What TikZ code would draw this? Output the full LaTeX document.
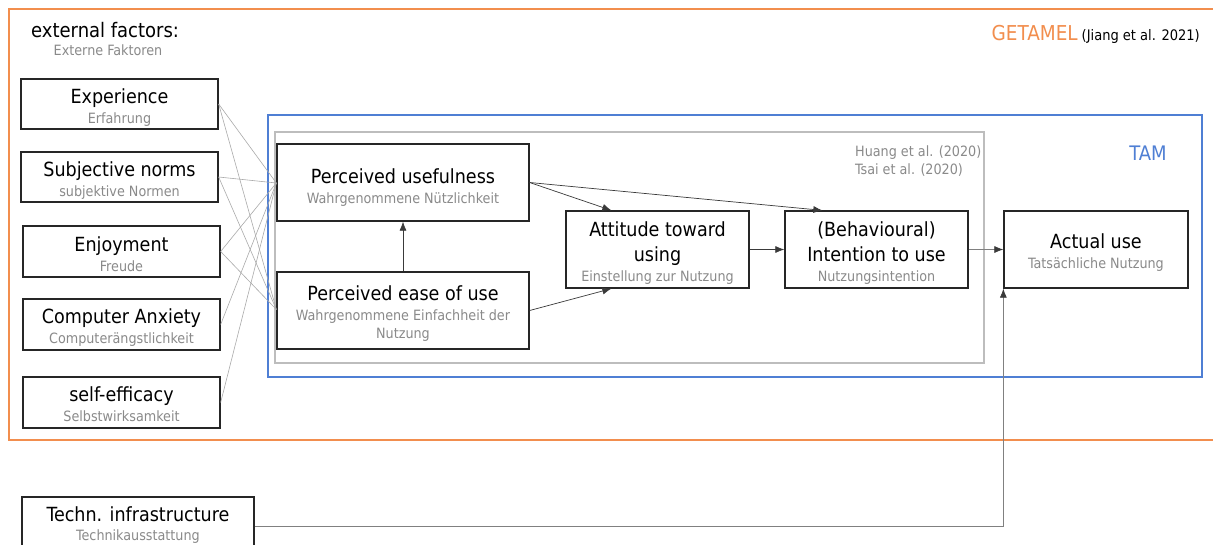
\documentclass[tikz,border=0pt]{standalone}
\usepackage{fontspec}
\setmainfont{DejaVu Sans Condensed}
\usetikzlibrary{arrows.meta,calc}
\definecolor{getorange}{HTML}{F28E4E}
\definecolor{tamblue}{HTML}{4F7FD4}
\definecolor{studygray}{HTML}{BDBDBD}
\definecolor{subgray}{HTML}{8A8A8A}
\definecolor{linkgray}{HTML}{AAAAAA}
\definecolor{arrowgray}{HTML}{3A3A3A}
\newcommand\mainf{\fontsize{19.5}{21}\selectfont}
\newcommand\subf{\fontsize{14.2}{18}\selectfont\color{subgray}}
\tikzset{
  factor/.style={draw=black!85, line width=1.3pt, inner sep=0pt, minimum width=#1},
  factor/.default=197pt,
  caption/.style={inner sep=0pt, align=center, font=\mainf},
  link/.style={draw=linkgray, line width=0.6pt},
  effect/.style={draw=arrowgray, line width=0.7pt,
                 -{Latex[length=9pt,width=7pt]}},
  feed/.style={draw=gray, line width=0.7pt,
                 -{Latex[length=9pt,width=7pt,color=arrowgray]}},
}
\begin{document}
\begin{tikzpicture}[x=1pt,y=-1pt]
\useasboundingbox (0,0) rectangle (1213,544);
\clip (0,0) rectangle (1213,544);
\fill[white] (0,0) rectangle (1213,544);

% GETAMEL frame (open to the right)
\draw[getorange, line width=1.5pt] (1220,9) -- (9,9) -- (9,440) -- (1220,440);
\node[anchor=base west, inner sep=0pt, font=\fontsize{20}{22}\selectfont] (extlbl) at (31,37) {external factors:};
\node[anchor=base, inner sep=0pt, font=\subf] (extsub) at (108,55) {Externe Faktoren};
\node[anchor=base east, inner sep=0pt] (getamel) at (1200,40)
  {{\color{getorange}\fontsize{20.5}{22}\selectfont GETAMEL}\hspace{4pt}{\fontsize{14.5}{16}\selectfont (Jiang et al. 2021)}};

% TAM frame and study frame
\draw[tamblue, line width=1.3pt] (268,115) rectangle (1202,377);
\node[anchor=base, inner sep=0pt, text=tamblue, font=\fontsize{20}{22}\selectfont] (tam) at (1148,160) {TAM};
\draw[studygray, line width=1.6pt] (275,132) rectangle (984,363);
\node[anchor=base west, inner sep=0pt, font=\subf] (huang) at (855,156) {Huang et al. (2020)};
\node[anchor=base west, inner sep=0pt, font=\subf] (tsai) at (855,174) {Tsai et al. (2020)};

% external factors
\node[factor, minimum height=50pt] (exp) at (119.5,104) {};
\node[caption] (exp-t) at ($(exp)+(0,3.5)$) {Experience\\[-1pt]{\subf Erfahrung}};
\node[factor, minimum height=50pt] (norm) at (119.5,177) {};
\node[caption] (norm-t) at ($(norm)+(0,3.5)$) {Subjective norms\\[-1pt]{\subf subjektive Normen}};
\node[factor, minimum height=51pt] (enj) at (121.5,251.5) {};
\node[caption] (enj-t) at ($(enj)+(0,3)$) {Enjoyment\\[-1pt]{\subf Freude}};
\node[factor, minimum height=51pt] (anx) at (121.5,324.5) {};
\node[caption] (anx-t) at ($(anx)+(0,3.5)$) {Computer Anxiety\\[-1pt]{\subf Computerängstlichkeit}};
\node[factor, minimum height=51pt] (eff) at (121.5,402.5) {};
\node[caption] (eff-t) at ($(eff)+(0,1.5)$) {self-efficacy\\[-1pt]{\subf Selbstwirksamkeit}};

% TAM constructs
\node[factor=252pt, minimum height=77pt] (pu) at (403,182.5) {};
\node[caption] (pu-t) at ($(pu)+(0,5)$) {Perceived usefulness\\[-1pt]{\subf Wahrgenommene Nützlichkeit}};
\node[factor=252pt, minimum height=77pt] (peou) at (403,310.5) {};
\node[caption] (peou-t) at ($(peou)+(0,3)$) {Perceived ease of use\\[-1pt]{\subf Wahrgenommene Einfachheit der}\\[-3pt]{\subf Nutzung}};
\node[factor=183pt, minimum height=77pt] (att) at (657.5,249.5) {};
\node[caption] (att-t) at ($(att)+(0,3.5)$) {Attitude toward\\[4pt]using\\[-1pt]{\subf Einstellung zur Nutzung}};
\node[factor=183pt, minimum height=77pt] (int) at (876.5,249.5) {};
\node[caption] (int-t) at ($(int)+(0,3.5)$) {(Behavioural)\\[4pt]Intention to use\\[-1pt]{\subf Nutzungsintention}};
\node[factor=184pt, minimum height=77pt] (use) at (1096,249.5) {};
\node[caption] (use-t) at ($(use)+(0,3)$) {Actual use\\[-1pt]{\subf Tatsächliche Nutzung}};
\node[factor=232pt, minimum height=58pt] (tech) at (138,526) {};
\node[caption] (tech-t) at ($(tech)+(0,-1)$) {Techn. infrastructure\\[-2pt]{\subf Technikausstattung}};

% external factors feeding the TAM beliefs
\coordinate (puin) at ($(pu.west)+(0,0.5)$);
\coordinate (peouin) at ($(peou.west)+(0,-1)$);
\foreach \f in {exp,norm,enj,anx,eff} \draw[link] (\f.east) -- (puin);
\foreach \f in {exp,norm,enj} \draw[link] (\f.east) -- (peouin);

% TAM relations
\draw[effect] (peou.north) -- (pu.south);
\draw[effect] (pu.east) -- ($(att.north west)+(46,0)$);
\draw[effect] (pu.east) -- ($(int.north west)+(38,0)$);
\draw[effect] (peou.east) -- ($(att.south west)+(46,0)$);
\draw[effect] (att.east) -- (int.west);
\draw[feed] (int.east) -- (use.west);
\draw[feed] (tech.east) -| (use.south west);
\end{tikzpicture}
\end{document}
